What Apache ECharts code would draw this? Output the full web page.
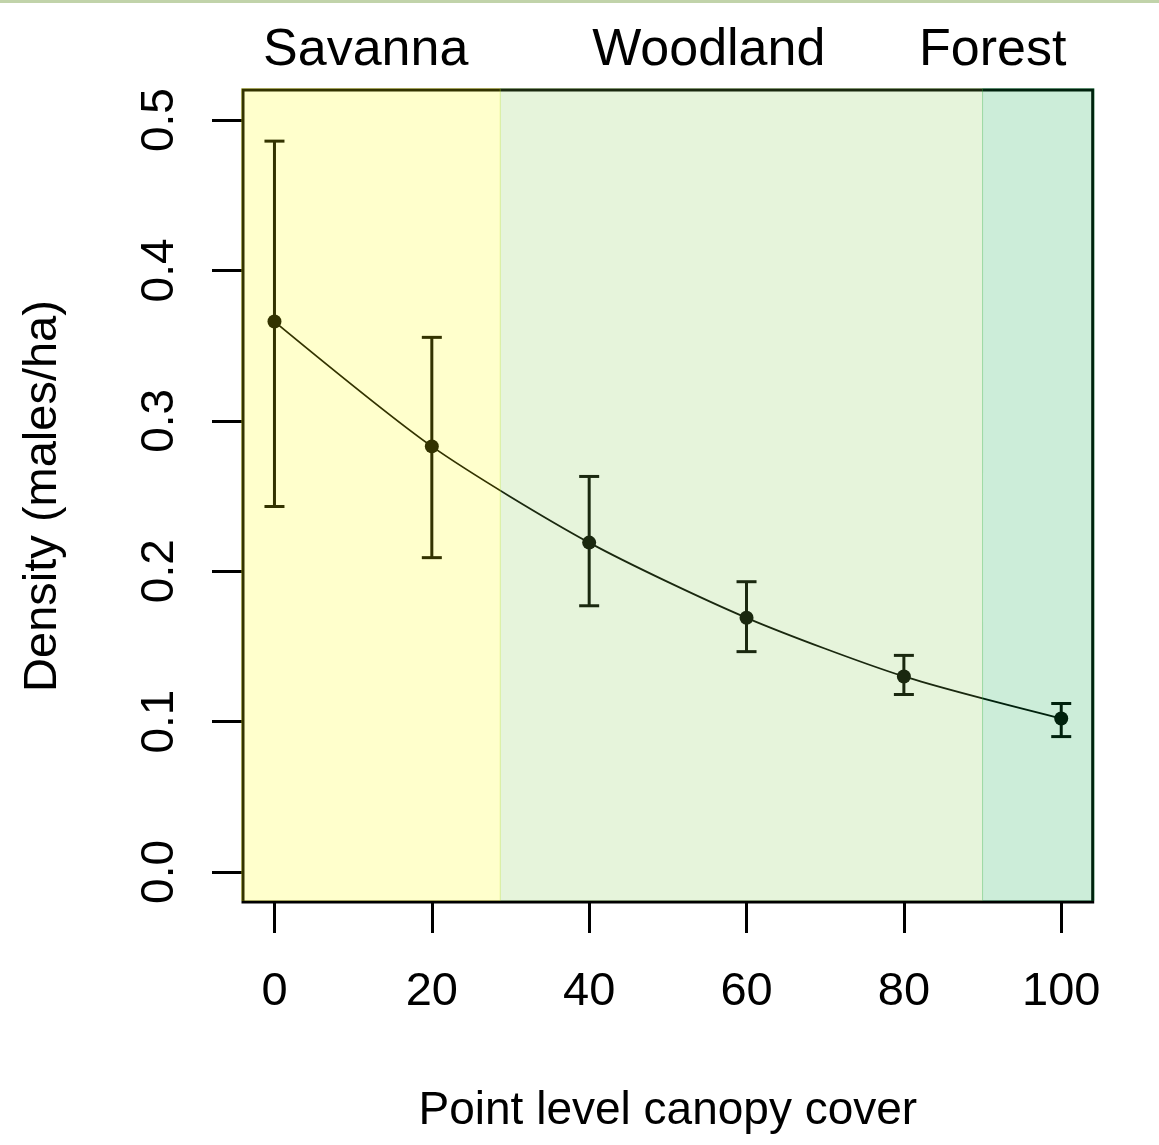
<!DOCTYPE html>
<html>
<head>
<meta charset="utf-8">
<title>Density by canopy cover</title>
<script src="https://cdn.jsdelivr.net/npm/echarts@6/dist/echarts.min.js"></script>
<style>
  html, body { margin: 0; padding: 0; background: #fff; }
  #chart { width: 1159px; height: 1145px; }
</style>
</head>
<body>
<div id="chart"></div>
<script>
// Predicted density (males/ha) along point-level canopy cover, with confidence limits
const canopy = [0, 20, 40, 60, 80, 100];
const density = [0.366, 0.283, 0.219, 0.169, 0.130, 0.102];
const lowerCI = [0.243, 0.209, 0.177, 0.1465, 0.118, 0.090];
const upperCI = [0.486, 0.3555, 0.263, 0.193, 0.144, 0.112];

// Axis ticks
const xTicks = [0, 20, 40, 60, 80, 100];
const yTicks = [0, 0.1, 0.2, 0.3, 0.4, 0.5];

// Habitat bands along the canopy gradient
const habitatNames = ['Savanna', 'Woodland', 'Forest'];
const habitatFrom = [-4, 28.7, 90];
const habitatTo = [28.7, 90, 104];
const habitatColors = ['rgba(255,255,0,0.2)', 'rgba(130,200,75,0.2)', 'rgba(0,165,65,0.2)'];
const habitatLabelAt = [11.6, 55.2, 91.3];

const FONT = 'Liberation Sans, Arial, sans-serif';

const chart = echarts.init(document.getElementById('chart'), null, { renderer: 'canvas' });

const bandData = habitatFrom.map((f, i) => [f, habitatTo[i]]);
const errData = canopy.map((c, i) => [c, lowerCI[i], upperCI[i]]);
const lineData = canopy.map((c, i) => [c, density[i]]);

function bandLabel(v) {
  const i = habitatLabelAt.findIndex(p => Math.abs(p - v) < 1e-6);
  return i >= 0 ? habitatNames[i] : '';
}

chart.setOption({
  animation: false,
  backgroundColor: '#fff',
  graphic: [{
    type: 'rect', left: 0, top: 0,
    shape: { width: 1159, height: 3 },
    style: { fill: '#c1d3aa' }, silent: true
  }],
  grid: {
    left: 243, top: 90, right: 66.3, bottom: 243,
    show: true, borderColor: '#000', borderWidth: 3, backgroundColor: 'transparent'
  },
  xAxis: [{
    type: 'value', min: -4, max: 104, position: 'bottom',
    name: 'Point level canopy cover', nameLocation: 'middle', nameGap: 186,
    nameTextStyle: { fontFamily: FONT, fontSize: 46, color: '#000' },
    axisLine: { show: false, onZero: false },
    splitLine: { show: false },
    axisTick: { show: true, inside: false, length: 31, customValues: xTicks,
      lineStyle: { color: '#000', width: 3 } },
    axisLabel: { show: true, customValues: xTicks, margin: 67,
      fontFamily: FONT, fontSize: 47, color: '#000' }
  }, {
    type: 'value', min: -4, max: 104, position: 'top',
    axisLine: { show: false, onZero: false }, splitLine: { show: false },
    axisTick: { show: false },
    axisLabel: { show: true, customValues: habitatLabelAt, margin: 13,
      formatter: bandLabel, fontFamily: FONT, fontSize: 52, color: '#000' }
  }],
  yAxis: {
    type: 'value', min: -0.02, max: 0.52,
    name: 'Density (males/ha)', nameLocation: 'middle', nameGap: 176,
    nameTextStyle: { fontFamily: FONT, fontSize: 47, color: '#000' },
    axisLine: { show: false, onZero: false },
    splitLine: { show: false },
    axisTick: { show: true, inside: false, length: 31, customValues: yTicks,
      lineStyle: { color: '#000', width: 3 } },
    axisLabel: { show: true, customValues: yTicks, rotate: 90, margin: 60,
      formatter: v => v.toFixed(1),
      fontFamily: FONT, fontSize: 46, color: '#000' }
  },
  series: [
    {
      // confidence interval whiskers
      type: 'custom', xAxisIndex: 0, z: 3, silent: true,
      data: errData,
      encode: { x: 0, y: [1, 2] },
      renderItem: (params, api) => {
        const x = api.value(0);
        const pLo = api.coord([x, api.value(1)]);
        const pHi = api.coord([x, api.value(2)]);
        const half = 10;
        const st = { stroke: '#000', lineWidth: 3 };
        return {
          type: 'group',
          children: [
            { type: 'line', shape: { x1: pLo[0], y1: pLo[1], x2: pHi[0], y2: pHi[1] }, style: st },
            { type: 'line', shape: { x1: pHi[0] - half, y1: pHi[1], x2: pHi[0] + half, y2: pHi[1] }, style: st },
            { type: 'line', shape: { x1: pLo[0] - half, y1: pLo[1], x2: pLo[0] + half, y2: pLo[1] }, style: st }
          ]
        };
      }
    },
    {
      type: 'line', xAxisIndex: 0, z: 4, silent: true,
      data: lineData,
      smooth: 0.25,
      symbol: 'circle', symbolSize: 14,
      itemStyle: { color: '#000' },
      lineStyle: { color: '#000', width: 1.8 }
    },
    {
      // translucent habitat bands laid over the plotting region
      type: 'custom', xAxisIndex: 0, z: 10, silent: true,
      data: bandData,
      encode: { x: [0, 1] },
      renderItem: (params, api) => {
        const cs = params.coordSys;
        const a = api.coord([api.value(0), 0])[0];
        const b = api.coord([api.value(1), 0])[0];
        const x0 = a <= cs.x + 0.5 ? cs.x - 1.5 : a;
        const x1 = b >= cs.x + cs.width - 0.5 ? cs.x + cs.width + 1.5 : b;
        const top = cs.y - 1.5;
        const bottom = cs.y + cs.height - 1.5;
        const col = habitatColors[params.dataIndex];
        return {
          type: 'rect',
          shape: { x: x0, y: top, width: x1 - x0, height: bottom - top },
          style: { fill: col, stroke: col, lineWidth: 1 }
        };
      }
    }
  ]
});
</script>
</body>
</html>
